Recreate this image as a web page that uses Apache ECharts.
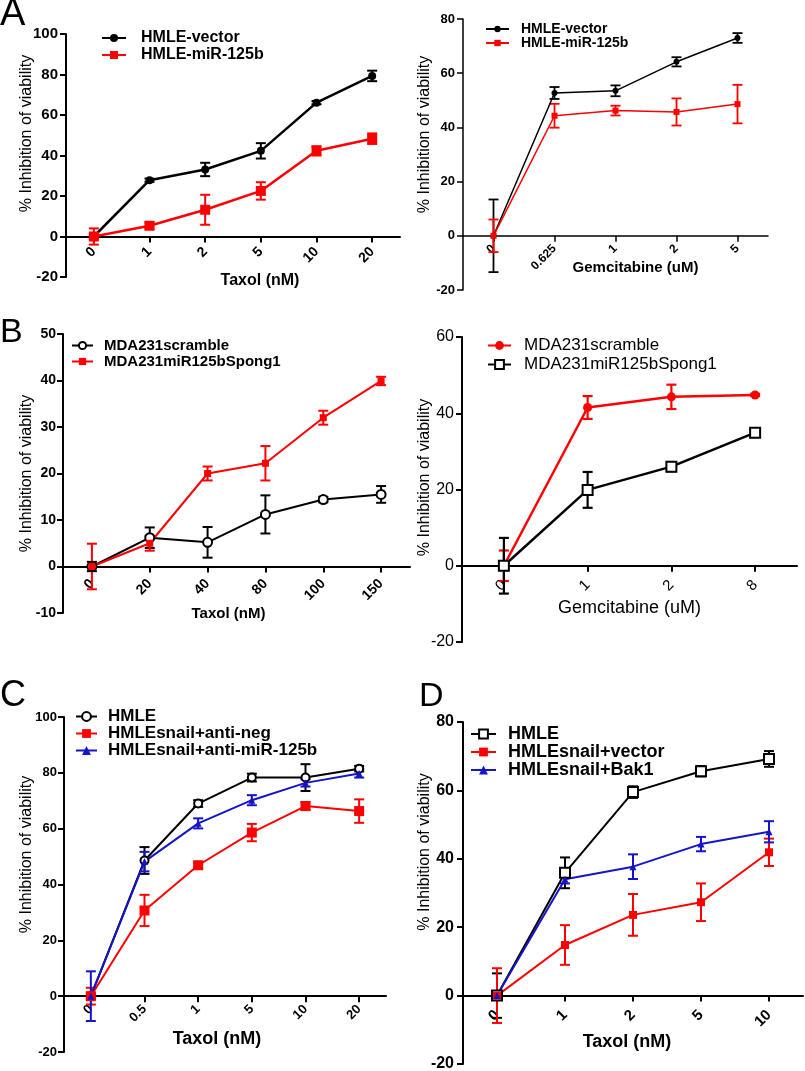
<!DOCTYPE html>
<html><head><meta charset="utf-8">
<script src="https://cdn.jsdelivr.net/npm/echarts@6/dist/echarts.min.js"></script>
<style>html,body{margin:0;padding:0;background:#fff}#c{width:805px;height:1071px}</style>
</head><body><div id="c"></div>
<script>
// ---------- DATA ----------
const yTitle = '% Inhibition of viability';

// Panel A (left) — Taxol
const catsA1 = ['0', '1', '2', '5', '10', '20'];
const a1Vector = [0, 27.8, 33.1, 42.3, 66.1, 79.3];
const a1VectorErr = [1, 0.8, 3.3, 3.8, 0.8, 2.6];
const a1Mir = [0, 5.3, 13.2, 22.5, 42.3, 48.3];
const a1MirErr = [4, 1.5, 7.4, 4.3, 2.3, 2.6];

// Panel A (right) — Gemcitabine
const catsA2 = ['0', '0.625', '1', '2', '5'];
const a2Vector = [0, 52.7, 53.5, 64.2, 73];
const a2VectorErr = [13.4, 2.2, 2, 1.7, 1.8];
const a2Mir = [0, 44.3, 46.2, 45.7, 48.6];
const a2MirErr = [6, 4.4, 1.8, 5, 7.1];

// Panel B (left) — Taxol
const catsB1 = ['0', '20', '40', '80', '100', '150'];
const b1Scramble = [0, 6.2, 5.2, 11.2, 14.4, 15.5];
const b1ScrambleErr = [1, 2.2, 3.3, 4.1, 0.6, 1.8];
const b1Sponge = [0, 5, 20, 22.2, 32, 39.9];
const b1SpongeErr = [4.9, 1.6, 1.5, 3.7, 1.5, 0.9];

// Panel B (right) — Gemcitabine
const catsB2 = ['0', '1', '2', '8'];
const b2Scramble = [0, 41.5, 44.3, 44.8];
const b2ScrambleErr = [4, 3, 3.2, 0.3];
const b2Sponge = [0, 19.9, 26, 34.9];
const b2SpongeErr = [7.3, 4.7, 1.2, 0.5];

// Panel C — Taxol
const catsC = ['0', '0.5', '1', '5', '10', '20'];
const cHMLE = [0, 48.6, 69, 78.3, 78.3, 81.5];
const cHMLEErr = [1, 4.8, 1.2, 1.4, 4.8, 1];
const cAntiNeg = [0, 30.7, 46.9, 58.6, 68.1, 66.3];
const cAntiNegErr = [3, 5.6, 1, 3.1, 1.4, 4.2];
const cAntiMir = [0, 48.2, 61.9, 70.2, 76.4, 79.8];
const cAntiMirErr = [8.9, 3.5, 1.8, 1.8, 1.3, 1.5];

// Panel D — Taxol
const catsD = ['0', '1', '2', '5', '10'];
const dHMLE = [0, 35.9, 59.5, 65.6, 69.2];
const dHMLEErr = [6.5, 4.5, 1.7, 1.5, 2.3];
const dVector = [0, 14.8, 23.6, 27.3, 41.9];
const dVectorErr = [8, 5.8, 6.1, 5.5, 4];
const dBak1 = [0, 34, 37.7, 44.3, 47.9];
const dBak1Err = [1, 1.2, 3.6, 2.1, 3.1];

// ---------- STYLE / LAYOUT ----------
const FONT = '"Liberation Sans", Arial, Helvetica, sans-serif';
const RED = '#ff0000', BLUE = '#1414c8', BLACK = '#000000';

const panels = [
  { key: 'A1', grid: { left: 66, top: 34, width: 334, height: 243 }, cats: catsA1, y: [-20, 100, 20], axisW: 2,
    yLab: [15, 'bold', 8], xLab: [14, 'bold', 13], xName: 'Taxol (nM)', xNameS: [16, 'bold', 36, [0, 0, 0, 54]],
    yNameS: [16, 31, [0, 0, 0, 44]],
    lg: { left: 101, top: 30, w: 24, h: 10, lh: 14, gap: 1, size: 16, weight: 'bold', pad: 10 },
    series: [
      { name: 'HMLE-vector', data: a1Vector, err: a1VectorErr, color: BLACK, symbol: 'circle', size: 8, lw: 2.5, ew: 2, cap: 5 },
      { name: 'HMLE-miR-125b', data: a1Mir, err: a1MirErr, color: RED, symbol: 'rect', size: 10, lw: 2.5, ew: 2, cap: 5 }
    ] },
  { key: 'A2', grid: { left: 463, top: 19, width: 305, height: 271 }, cats: catsA2, y: [-20, 80, 20], axisW: 1.5,
    yLab: [13, 'bold', 8], xLab: [12, 'bold', 11], xName: 'Gemcitabine (uM)', xNameS: [15, 'bold', 25, [0, 0, 0, 40]],
    yNameS: [16, 30, [0, 0, 0, 40]],
    lg: { left: 485, top: 22, w: 23, h: 8, lh: 12, gap: 0, size: 14, weight: 'bold', pad: 7 },
    series: [
      { name: 'HMLE-vector', data: a2Vector, err: a2VectorErr, color: BLACK, symbol: 'circle', size: 6, lw: 1.5, ew: 1.8, cap: 5 },
      { name: 'HMLE-miR-125b', data: a2Mir, err: a2MirErr, color: RED, symbol: 'rect', size: 6, lw: 1.5, ew: 1.8, cap: 5 }
    ] },
  { key: 'B1', grid: { left: 63, top: 334, width: 347, height: 279 }, cats: catsB1, y: [-10, 50, 10], axisW: 2,
    yLab: [14, 'bold', 7], xLab: [14, 'bold', 15], xName: 'Taxol (nM)', xNameS: [15, 'bold', 40, [0, 16, 0, 0]],
    yNameS: [16, 28, [0, 0, 0, 0]],
    lg: { left: 71, top: 338, w: 21, h: 9, lh: 14, gap: 1, size: 15, weight: 'bold', pad: 6 },
    series: [
      { name: 'MDA231scramble', data: b1Scramble, err: b1ScrambleErr, color: BLACK, symbol: 'emptyCircle', size: 9, lw: 2, ew: 2, cap: 5, bw: 2 },
      { name: 'MDA231miR125bSpong1', data: b1Sponge, err: b1SpongeErr, color: RED, symbol: 'rect', size: 7, lw: 2, ew: 2, cap: 5 }
    ] },
  { key: 'B2', grid: { left: 462, top: 337, width: 335, height: 305 }, cats: catsB2, y: [-20, 60, 20], axisW: 2,
    yLab: [16, 'normal', 8], xLab: [15, 'normal', 17], xName: 'Gemcitabine (uM)', xNameS: [18, 'normal', 33, [0, 0, 0, 0]],
    yNameS: [16, 29, [0, 0, 0, 24]],
    lg: { left: 487, top: 337, w: 23, h: 11, lh: 17, gap: 2, size: 17, weight: 'normal', pad: 8 },
    series: [
      { name: 'MDA231scramble', data: b2Scramble, err: b2ScrambleErr, color: RED, symbol: 'circle', size: 9, lw: 2.5, ew: 2.2, cap: 5 },
      { name: 'MDA231miR125bSpong1', data: b2Sponge, err: b2SpongeErr, color: BLACK, symbol: 'emptyRect', size: 10, lw: 2.5, ew: 2.2, cap: 5, bw: 2.5 }
    ] },
  { key: 'C', grid: { left: 64, top: 717, width: 322, height: 335 }, cats: catsC, y: [-20, 100, 20], axisW: 2,
    yLab: [13, 'bold', 7], xLab: [13, 'bold', 11], xName: 'Taxol (nM)', xNameS: [18, 'bold', 34, [0, 16, 0, 0]],
    yNameS: [16, 29, [0, 0, 0, 60]],
    lg: { left: 75, top: 708, w: 21, h: 11, lh: 17, gap: 0, size: 17, weight: 'bold', pad: 6 },
    series: [
      { name: 'HMLE', data: cHMLE, err: cHMLEErr, color: BLACK, symbol: 'emptyCircle', size: 8, lw: 2, ew: 2, cap: 5, bw: 2 },
      { name: 'HMLEsnail+anti-neg', data: cAntiNeg, err: cAntiNegErr, color: RED, symbol: 'rect', size: 10, lw: 2, ew: 2, cap: 5 },
      { name: 'HMLEsnail+anti-miR-125b', data: cAntiMir, err: cAntiMirErr, color: BLUE, symbol: 'triangle', size: 7, lw: 2, ew: 2, cap: 5 }
    ] },
  { key: 'D', grid: { left: 463, top: 722, width: 340, height: 342 }, cats: catsD, y: [-20, 80, 20], axisW: 2,
    yLab: [16, 'bold', 9], xLab: [15, 'bold', 17], xName: 'Taxol (nM)', xNameS: [18, 'bold', 37, [0, 12, 0, 0]],
    yNameS: [16, 30, [0, 0, 0, 82]],
    lg: { left: 470, top: 725, w: 25, h: 11, lh: 17, gap: 0, size: 18, weight: 'bold', pad: 7 },
    series: [
      { name: 'HMLE', data: dHMLE, err: dHMLEErr, color: BLACK, symbol: 'emptyRect', size: 10, lw: 2, ew: 2, cap: 5, bw: 2.5 },
      { name: 'HMLEsnail+vector', data: dVector, err: dVectorErr, color: RED, symbol: 'rect', size: 8, lw: 2, ew: 2, cap: 5 },
      { name: 'HMLEsnail+Bak1', data: dBak1, err: dBak1Err, color: BLUE, symbol: 'triangle', size: 7, lw: 2, ew: 2, cap: 5 }
    ] }
];

const letters = [
  { t: 'A', x: 0, y: -4, s: 38 },
  { t: 'B', x: 0, y: 316, s: 34 },
  { t: 'C', x: 0, y: 678, s: 36 },
  { t: 'D', x: 419, y: 680, s: 34 }
];

function errRender(cap, color, lw) {
  return function (params, api) {
    const x = api.value(0), y = api.value(1), e = api.value(2);
    const t = api.coord([x, y + e]);
    const b = api.coord([x, y - e]);
    const st = { stroke: color, lineWidth: lw };
    return { type: 'group', children: [
      { type: 'line', shape: { x1: t[0], y1: t[1], x2: b[0], y2: b[1] }, style: st },
      { type: 'line', shape: { x1: t[0] - cap, y1: t[1], x2: t[0] + cap, y2: t[1] }, style: st },
      { type: 'line', shape: { x1: b[0] - cap, y1: b[1], x2: b[0] + cap, y2: b[1] }, style: st }
    ] };
  };
}

const option = { animation: false, backgroundColor: '#ffffff', grid: [], xAxis: [], yAxis: [], legend: [], series: [], graphic: [] };

panels.forEach(function (p, i) {
  option.grid.push(Object.assign({ containLabel: false, outerBoundsMode: 'none' }, p.grid));
  const idxs = p.cats.map(function (c, k) { return k; });
  const axLine = { color: '#000', width: p.axisW };
  // x axis sits on the y=0 level: shift it up from the grid bottom by the zero position
  const zeroShift = p.grid.height * (0 - p.y[0]) / (p.y[1] - p.y[0]);
  option.xAxis.push({
    type: 'value', gridIndex: i, min: -0.5, max: p.cats.length - 0.5, position: 'bottom', offset: -zeroShift,
    axisLine: { show: true, onZero: false, lineStyle: axLine },
    axisTick: { show: true, customValues: idxs, length: 6, lineStyle: axLine },
    axisLabel: { show: true, customValues: idxs, formatter: function (v) { return p.cats[Math.round(v)]; },
      rotate: 45, margin: p.xLab[2], fontSize: p.xLab[0], fontWeight: p.xLab[1], color: '#000', fontFamily: FONT },
    splitLine: { show: false },
    name: p.xName, nameLocation: 'middle', nameGap: p.xNameS[2], nameMoveOverlap: false,
    nameTextStyle: { fontSize: p.xNameS[0], fontWeight: p.xNameS[1], color: '#000', fontFamily: FONT, padding: p.xNameS[3], verticalAlign: 'top' }
  });
  option.yAxis.push({
    type: 'value', gridIndex: i, min: p.y[0], max: p.y[1], interval: p.y[2],
    axisLine: { show: true, onZero: false, lineStyle: axLine },
    axisTick: { show: true, length: 6, lineStyle: axLine },
    axisLabel: { show: true, margin: p.yLab[2], fontSize: p.yLab[0], fontWeight: p.yLab[1], color: '#000', fontFamily: FONT },
    splitLine: { show: false },
    name: yTitle, nameLocation: 'middle', nameGap: p.yNameS[1], nameMoveOverlap: false,
    nameTextStyle: { fontSize: p.yNameS[0], color: '#000', fontFamily: FONT, padding: p.yNameS[2] }
  });
  const lg = p.lg;
  option.legend.push({
    orient: 'vertical', left: lg.left, top: lg.top, padding: 0, itemWidth: lg.w, itemHeight: lg.h, itemGap: lg.gap,
    selectedMode: false,
    data: p.series.map(function (s) { return p.key + '|' + s.name; }),
    formatter: function (nm) { return nm.split('|')[1]; },
    textStyle: { fontSize: lg.size, fontWeight: lg.weight, color: '#000', fontFamily: FONT, lineHeight: lg.lh, padding: [0, 0, 0, lg.pad] }
  });
  p.series.forEach(function (s) {
    option.series.push({
      type: 'custom', name: p.key + '|' + s.name + ' err', xAxisIndex: i, yAxisIndex: i, silent: true, z: 2,
      data: s.data.map(function (v, k) { return [k, v, s.err[k]]; }),
      encode: { x: 0, y: 1 },
      renderItem: errRender(s.cap, s.color, s.ew)
    });
    option.series.push({
      type: 'line', name: p.key + '|' + s.name, xAxisIndex: i, yAxisIndex: i, silent: true, z: 3,
      data: s.data.map(function (v, k) { return [k, v]; }),
      symbol: s.symbol, symbolSize: s.size, showSymbol: true,
      lineStyle: { color: s.color, width: s.lw },
      itemStyle: { color: s.color, borderColor: s.color, borderWidth: s.bw || 0 }
    });
  });
});

letters.forEach(function (L) {
  option.graphic.push({ type: 'text', x: L.x, y: L.y, style: { text: L.t, fontSize: L.s, fontFamily: FONT, fill: '#000', verticalAlign: 'top' } });
});

const chart = echarts.init(document.getElementById('c'), null, { renderer: 'canvas' });
chart.setOption(option);
</script></body></html>
